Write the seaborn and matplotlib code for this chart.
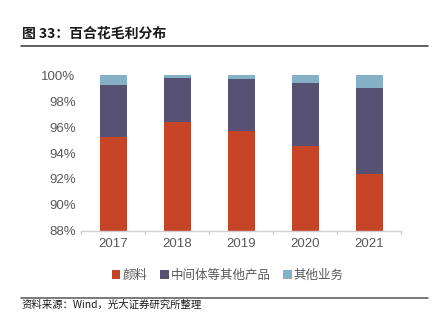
import matplotlib
matplotlib.use("Agg")
import matplotlib.pyplot as plt
import seaborn as sns
import pandas as pd
import numpy as np
from matplotlib.patches import Patch
from matplotlib.lines import Line2D

years = ["2017", "2018", "2019", "2020", "2021"]
pigment = [95.2, 96.4, 95.7, 94.55, 92.4]          # 颜料
intermediate = [4.0, 3.35, 4.0, 4.85, 6.6]         # 中间体等其他产品
other = [0.8, 0.25, 0.3, 0.6, 1.0]                 # 其他业务
series_names = ["颜料", "中间体等其他产品", "其他业务"]
colors = ["#C64527", "#575173", "#85B1C6"]
yticks = [88, 90, 92, 94, 96, 98, 100]

sns.set_theme(style="white")
plt.rcParams["font.family"] = ["Noto Sans CJK SC", "DejaVu Sans"]

fig = plt.figure(figsize=(4.36, 3.27), dpi=100)
ax = fig.add_axes([0.186, 0.2936, 0.734, 0.477])

df = pd.DataFrame({"year": years, "pigment": pigment,
                   "intermediate": intermediate, "other": other})
df["c1"] = df["pigment"]
df["c2"] = df["pigment"] + df["intermediate"]
df["c3"] = df["c2"] + df["other"]

for col, color in zip(["c3", "c2", "c1"], colors[::-1]):
    sns.barplot(data=df, x="year", y=col, color=color, width=0.42,
                saturation=1, ax=ax, linewidth=0)

ax.set_ylim(88, 100)
ax.set_xlim(-0.5, 4.5)
ax.set_yticks(yticks)
ax.set_yticklabels([f"{v}%" for v in yticks], family=["Liberation Sans"],
                   fontsize=9.5, color="#595959")
ax.set_xticks(range(len(years)))
ax.set_xticklabels(years, family=["Liberation Sans"], fontsize=9.5, color="#595959")
ax.set_xlabel("")
ax.set_ylabel("")
for s in ["top", "right", "left"]:
    ax.spines[s].set_visible(False)
ax.spines["bottom"].set_color("#D0D0D0")
ax.spines["bottom"].set_linewidth(1)
ax.tick_params(axis="x", length=0, pad=5)
ax.tick_params(axis="y", length=0, pad=4)
# small boundary ticks between categories
for xb in np.arange(-0.5, 5, 1.0):
    ax.plot([xb, xb], [88, 88 - 0.25], color="#D0D0D0", lw=1, clip_on=False)

# title and rules
fig.text(0.05, 0.897, "图 33：百合花毛利分布", fontsize=10, fontweight="bold",
         color="#1a1a1a", va="center")
fig.add_artist(Line2D([0.048, 0.982], [0.858, 0.858], color="#333333", lw=1.1))
fig.add_artist(Line2D([0.048, 0.982], [0.089, 0.089], color="#555555", lw=1.1))
fig.text(0.05, 0.067, "资料来源：Wind，光大证券研究所整理", fontsize=7.5,
         color="#1a1a1a", va="center")

handles = [Patch(facecolor=c, edgecolor="none") for c in colors]
fig.legend(handles, series_names, loc="center", bbox_to_anchor=(0.522, 0.157),
           ncol=3, frameon=False, fontsize=9, handlelength=0.7,
           handleheight=0.7, handletextpad=0.15, columnspacing=1.0,
           labelcolor="#595959")

fig.savefig("out.png", dpi=100)
